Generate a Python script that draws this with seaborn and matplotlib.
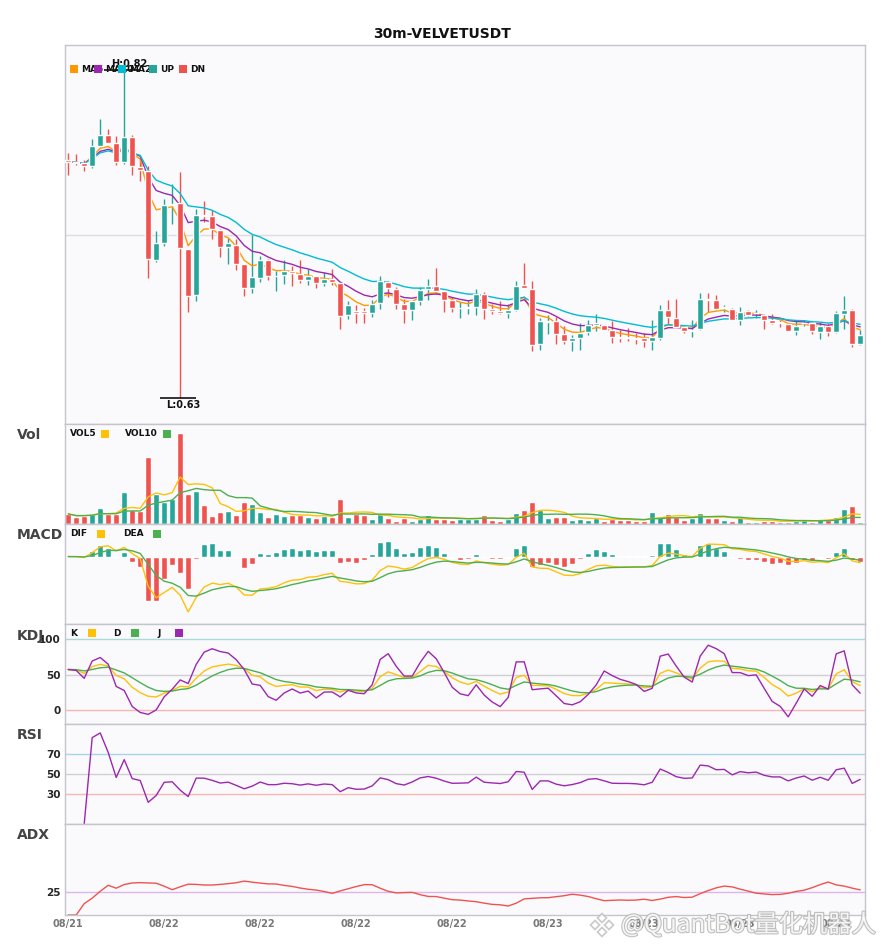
import matplotlib
matplotlib.use('Agg')
import matplotlib.pyplot as plt
from matplotlib.patches import Rectangle, Polygon
import matplotlib.patheffects as pe
import numpy as np
import pandas as pd
import seaborn as sns

# --- data (30m candles, VELVETUSDT) ---
opens = [0.7669, 0.7654, 0.7650, 0.7631, 0.7747, 0.7809, 0.7763, 0.7655, 0.7798, 0.7625,
         0.7606, 0.7092, 0.7190, 0.7406, 0.7418, 0.7153, 0.6889, 0.7349, 0.7345, 0.7267,
         0.7167, 0.7177, 0.7067, 0.6931, 0.6991, 0.7094, 0.6998, 0.7008, 0.7031, 0.7014,
         0.6975, 0.6998, 0.6960, 0.6985, 0.6962, 0.6774, 0.6797, 0.6799, 0.6787, 0.6847,
         0.6964, 0.6928, 0.6841, 0.6807, 0.6856, 0.6925, 0.6945, 0.6912, 0.6860, 0.6814,
         0.6814, 0.6822, 0.6895, 0.6809, 0.6797, 0.6787, 0.6803, 0.6947, 0.6928, 0.6611,
         0.6738, 0.6740, 0.6665, 0.6626, 0.6644, 0.6678, 0.6721, 0.6717, 0.6688, 0.6648,
         0.6648, 0.6642, 0.6646, 0.6625, 0.6646, 0.6807, 0.6761, 0.6707, 0.6686, 0.6694,
         0.6870, 0.6860, 0.6817, 0.6813, 0.6749, 0.6797, 0.6785, 0.6778, 0.6745, 0.6732,
         0.6726, 0.6684, 0.6728, 0.6730, 0.6678, 0.6711, 0.6678, 0.6784, 0.6803, 0.6611]
highs = [0.7707, 0.7701, 0.7665, 0.7786, 0.7901, 0.7844, 0.7803, 0.8200, 0.7809, 0.7684,
         0.7631, 0.7257, 0.7441, 0.7527, 0.7596, 0.7153, 0.7383, 0.7429, 0.7378, 0.7268,
         0.7221, 0.7215, 0.7067, 0.7234, 0.7113, 0.7100, 0.7027, 0.7094, 0.7056, 0.7090,
         0.7043, 0.6998, 0.7023, 0.7043, 0.6962, 0.6855, 0.6832, 0.6814, 0.6860, 0.6998,
         0.6970, 0.6937, 0.6870, 0.6855, 0.6937, 0.6985, 0.7046, 0.6912, 0.6879, 0.6850,
         0.6864, 0.6928, 0.6908, 0.6837, 0.6855, 0.6841, 0.6970, 0.7075, 0.6970, 0.6759,
         0.6774, 0.6764, 0.6711, 0.6659, 0.6730, 0.6749, 0.6784, 0.6717, 0.6740, 0.6688,
         0.6701, 0.6672, 0.6672, 0.6749, 0.6832, 0.6860, 0.6870, 0.6711, 0.6749, 0.6905,
         0.6902, 0.6889, 0.6832, 0.6814, 0.6822, 0.6804, 0.6807, 0.6784, 0.6784, 0.6749,
         0.6726, 0.6745, 0.6749, 0.6730, 0.6736, 0.6730, 0.6797, 0.6883, 0.6813, 0.6688]
lows = [0.7583, 0.7636, 0.7602, 0.7621, 0.7742, 0.7763, 0.7636, 0.7642, 0.7583, 0.7546,
        0.6988, 0.7080, 0.7172, 0.7301, 0.6300, 0.6793, 0.6856, 0.7309, 0.7215, 0.7109,
        0.7071, 0.7033, 0.6885, 0.6902, 0.6966, 0.6975, 0.6914, 0.6956, 0.6941, 0.6960,
        0.6947, 0.6933, 0.6943, 0.6947, 0.6694, 0.6755, 0.6730, 0.6730, 0.6764, 0.6809,
        0.6879, 0.6813, 0.6730, 0.6749, 0.6832, 0.6860, 0.6899, 0.6793, 0.6793, 0.6761,
        0.6780, 0.6774, 0.6751, 0.6780, 0.6780, 0.6761, 0.6797, 0.6931, 0.6569, 0.6573,
        0.6669, 0.6611, 0.6607, 0.6569, 0.6577, 0.6663, 0.6684, 0.6688, 0.6615, 0.6620,
        0.6625, 0.6611, 0.6592, 0.6577, 0.6634, 0.6726, 0.6707, 0.6672, 0.6649, 0.6688,
        0.6793, 0.6803, 0.6793, 0.6749, 0.6717, 0.6768, 0.6761, 0.6698, 0.6726, 0.6707,
        0.6684, 0.6659, 0.6711, 0.6669, 0.6640, 0.6653, 0.6672, 0.6698, 0.6592, 0.6606]
closes = [0.7654, 0.7652, 0.7635, 0.7746, 0.7809, 0.7763, 0.7655, 0.7798, 0.7632, 0.7609,
          0.7098, 0.7188, 0.7406, 0.7416, 0.7161, 0.6885, 0.7349, 0.7346, 0.7268, 0.7167,
          0.7190, 0.7071, 0.6931, 0.6993, 0.7094, 0.7000, 0.7000, 0.7031, 0.7016, 0.6975,
          0.6998, 0.6960, 0.6981, 0.6966, 0.6768, 0.6832, 0.6787, 0.6790, 0.6837, 0.6970,
          0.6931, 0.6841, 0.6807, 0.6855, 0.6922, 0.6945, 0.6914, 0.6860, 0.6816, 0.6818,
          0.6822, 0.6895, 0.6809, 0.6797, 0.6787, 0.6807, 0.6941, 0.6931, 0.6602, 0.6740,
          0.6740, 0.6665, 0.6626, 0.6644, 0.6672, 0.6721, 0.6730, 0.6692, 0.6649, 0.6646,
          0.6646, 0.6640, 0.6625, 0.6649, 0.6807, 0.6764, 0.6707, 0.6684, 0.6688, 0.6870,
          0.6860, 0.6813, 0.6818, 0.6749, 0.6793, 0.6778, 0.6787, 0.6749, 0.6730, 0.6730,
          0.6684, 0.6711, 0.6730, 0.6684, 0.6711, 0.6678, 0.6787, 0.6807, 0.6611, 0.6659]
# volume in thousands
volumes = [30, 20, 25, 30, 49, 30, 30, 94, 43, 38,
           199, 88, 66, 76, 271, 88, 97, 58, 25, 37,
           40, 28, 67, 61, 37, 22, 31, 25, 28, 28,
           22, 19, 25, 22, 76, 22, 31, 28, 16, 34,
           19, 10, 19, 10, 15, 28, 16, 16, 13, 16,
           16, 16, 28, 13, 10, 16, 34, 43, 67, 43,
           19, 22, 22, 13, 16, 13, 18, 10, 16, 13,
           13, 10, 10, 37, 22, 31, 22, 13, 19, 34,
           19, 19, 13, 10, 22, 7, 7, 10, 10, 7,
           7, 10, 13, 7, 16, 13, 22, 46, 55, 7]
date_ticks = [0, 12, 24, 36, 48, 60, 72, 84, 96]
date_labels = ['08/21', '08/22', '08/22', '08/22', '08/22', '08/23', '08/23', '08/23', '08/23']

UP, DN = '#26a69a', '#ef5350'

df = pd.DataFrame({'o': opens, 'h': highs, 'l': lows, 'c': closes, 'v': volumes})
df['i'] = np.arange(len(df))
cols = np.where(df['c'] >= df['o'], UP, DN)

# --- indicators ---
for n in (5, 10, 20):
    df[f'ma{n}'] = df['c'].ewm(span=n).mean()
df['vol5'] = df['v'].rolling(5, min_periods=1).mean()
df['vol10'] = df['v'].rolling(10, min_periods=1).mean()

# fast MACD (6, 13, 5)
df['dif'] = df['c'].ewm(span=6, adjust=False).mean() - df['c'].ewm(span=13, adjust=False).mean()
df['dea'] = df['dif'].ewm(span=5, adjust=False).mean()
df['hist'] = 2 * (df['dif'] - df['dea'])

low9 = df['l'].rolling(9, min_periods=1).min()
high9 = df['h'].rolling(9, min_periods=1).max()
rsv = (df['c'] - low9) / (high9 - low9) * 100
df['k'] = rsv.ewm(com=2, adjust=False).mean()
df['d'] = df['k'].ewm(com=2, adjust=False).mean()
df['j'] = 3 * df['k'] - 2 * df['d']

delta = df['c'].diff()
gain = delta.clip(lower=0).ewm(alpha=1 / 14, min_periods=2).mean()
loss = (-delta.clip(upper=0)).ewm(alpha=1 / 14, min_periods=2).mean()
df['rsi'] = 100 * gain / (gain + loss)

prev_c = df['c'].shift()
tr = pd.concat([df['h'] - df['l'], (df['h'] - prev_c).abs(), (df['l'] - prev_c).abs()], axis=1).max(axis=1)
upm = df['h'].diff()
dnm = -df['l'].diff()
pdm = pd.Series(np.where((upm > dnm) & (upm > 0), upm, 0.0))
mdm = pd.Series(np.where((dnm > upm) & (dnm > 0), dnm, 0.0))
atr = tr.ewm(alpha=1 / 8, adjust=False).mean()
pdi = 100 * pdm.ewm(alpha=1 / 8, adjust=False).mean() / atr
mdi = 100 * mdm.ewm(alpha=1 / 8, adjust=False).mean() / atr
dx = (100 * (pdi - mdi).abs() / (pdi + mdi)).fillna(0)
df['adx'] = dx.ewm(alpha=1 / 8, adjust=False).mean()

# --- figure ---
sns.set_style('white')
plt.rcParams['font.family'] = ['DejaVu Sans', 'Noto Sans CJK SC']
W, H = 885, 950
fig = plt.figure(figsize=(W / 100, H / 100), dpi=100)
fig.patch.set_facecolor('white')


def panel(top, bottom):
    ax = fig.add_axes([65 / W, 1 - bottom / H, 800 / W, (bottom - top) / H])
    ax.set_facecolor('#fafafc')
    for s in ax.spines.values():
        s.set_color('#c4c4cc')
        s.set_linewidth(1)
    ax.set_xlim(-0.4, 99.6)
    ax.set_xticks([])
    ax.set_yticks([])
    ax.tick_params(length=0, pad=3)
    return ax


def line(ax, col, color, lw=1.0):
    sns.lineplot(x=df['i'], y=df[col], ax=ax, color=color, linewidth=lw)
    ax.set_xlabel('')
    ax.set_ylabel('')


def label_square(x, y, text, color, square_first=False, gap=0):
    # x, y in figure pixels from the top-left corner
    tx = x + 11 if square_first else x
    sx = x if square_first else x + gap
    fig.text(tx / W, 1 - y / H, text, fontsize=6.5, fontweight='bold',
             va='center', ha='left', color='#111111', zorder=5)
    fig.add_artist(Rectangle((sx / W, 1 - (y + 3.5) / H), 7.5 / W, 7.5 / H,
                             transform=fig.transFigure, facecolor=color,
                             edgecolor='none', zorder=6))


def side_label(y, text):
    fig.text(17 / W, 1 - y / H, text, fontsize=10, fontweight='bold',
             color='#444444', va='center', ha='left')


fig.text(0.5, 1 - 34 / H, '30m-VELVETUSDT', ha='center', va='center',
         fontsize=10, fontweight='bold', color='#111111')

# price panel
ax = panel(45, 424)
lo, hi = df['l'].min(), df['h'].max()
rng = hi - lo
ylo, yhi = lo - 0.079 * rng, hi + 0.067 * rng
ax.set_ylim(ylo, yhi)
ax.axhline((ylo + yhi) / 2, color='#dcdce0', lw=1, zorder=0)
ax.vlines(df['i'], df['l'], df['h'], colors=cols, linewidth=1, zorder=2)
body_lo = np.minimum(df['o'], df['c'])
body_h = np.maximum((df['c'] - df['o']).abs(), 0.0004)
ax.bar(df['i'], body_h, bottom=body_lo, width=0.75, color=cols, zorder=3)
line(ax, 'ma5', '#ff9800')
line(ax, 'ma10', '#9c27b0')
line(ax, 'ma20', '#00bcd4')
ih = int(df['h'].idxmax())
il = int(df['l'].idxmin())
ax.hlines(hi - 0.0017, ih - 2.5, ih + 2, color='#111111', lw=1.2, zorder=4)
ax.text(ih + 0.6, hi - 0.0012, f'H:{hi:.2f}', ha='center', va='bottom',
        fontsize=7, fontweight='bold', color='#111111', zorder=4)
ax.hlines(lo, il - 2.5, il + 2, color='#111111', lw=1.2, zorder=4)
ax.text(il + 0.4, lo - 0.0015, f'L:{lo:.2f}', ha='center', va='top',
        fontsize=7, fontweight='bold', color='#111111', zorder=4)
for x, t, c in [(70, 'MA5', '#ff9800'), (94, 'MA10', '#9c27b0'), (118, 'MA20', '#00bcd4'),
                (149, 'UP', UP), (179, 'DN', DN)]:
    label_square(x, 69, t, c, square_first=True)

# volume panel
ax = panel(424, 524)
ax.bar(df['i'], df['v'], width=0.75, color=cols, zorder=2)
line(ax, 'vol5', '#ffc107')
line(ax, 'vol10', '#4caf50')
ax.set_ylim(0, df['v'].max() * 1.1)
side_label(435, 'Vol')
label_square(70, 434, 'VOL5', '#ffc107', gap=31)
label_square(125, 434, 'VOL10', '#4caf50', gap=38)

# MACD panel
ax = panel(524, 624)
ax.bar(df['i'], df['hist'], width=0.75, color=np.where(df['hist'] >= 0, UP, DN), zorder=2)
line(ax, 'dif', '#ffc107')
line(ax, 'dea', '#4caf50')
mlo = min(df['dif'].min(), df['dea'].min(), df['hist'].min())
mhi = max(df['dif'].max(), df['dea'].max(), df['hist'].max())
mr = mhi - mlo
ax.set_ylim(mlo - 0.17 * mr, mhi + 0.24 * mr)
side_label(535, 'MACD')
label_square(70, 534, 'DIF', '#ffc107', gap=27)
label_square(123, 534, 'DEA', '#4caf50', gap=30)

# KDJ panel
ax = panel(624, 724)
ax.axhline(100, color='#a8dada', lw=1, zorder=0)
ax.axhline(50, color='#d0d0d4', lw=1, zorder=0)
ax.axhline(0, color='#ffb4b4', lw=1, zorder=0)
line(ax, 'k', '#ffc107')
line(ax, 'd', '#4caf50')
line(ax, 'j', '#9c27b0')
ax.set_ylim(-19.8, 121.6)
ax.set_yticks([0, 50, 100])
ax.set_yticklabels(['0', '50', '100'], fontsize=7.5, fontweight='bold')
side_label(636, 'KDJ')
label_square(70, 633, 'K', '#ffc107', gap=18)
label_square(113, 633, 'D', '#4caf50', gap=18)
label_square(157, 633, 'J', '#9c27b0', gap=18)

# RSI panel
ax = panel(724, 824)
ax.axhline(70, color='#a8d4e8', lw=1, zorder=0)
ax.axhline(50, color='#d0d0d4', lw=1, zorder=0)
ax.axhline(30, color='#ffb4b4', lw=1, zorder=0)
line(ax, 'rsi', '#9c27b0')
ax.set_ylim(0, 100)
ax.set_yticks([30, 50, 70])
ax.set_yticklabels(['30', '50', '70'], fontsize=7.5, fontweight='bold')
side_label(735, 'RSI')

# ADX panel
ax = panel(824, 915)
ax.axhline(25, color='#deb4ea', lw=1, zorder=0)
line(ax, 'adx', '#ef5350')
ax.set_ylim(0, 100)
ax.set_yticks([25])
ax.set_yticklabels(['25'], fontsize=7.5, fontweight='bold')
ax.set_xticks(date_ticks)
ax.set_xticklabels(date_labels, fontsize=7, fontweight='bold', color='#777777')
side_label(835, 'ADX')

# watermark: outlined text with a small diamond logo
halo = [pe.withStroke(linewidth=1.6, foreground='#b4b4b4')]
fig.text(621 / W, 1 - 925 / H, '@QuantBot量化机器人', fontsize=17.5, color='white',
         va='center', ha='left', family=['Noto Sans CJK SC', 'DejaVu Sans'],
         path_effects=halo, alpha=0.85, zorder=10)
for cx, cy, r in [(602, 918, 4.5), (595, 925, 4.5), (609, 925, 4.5), (602, 932, 4.5)]:
    pts = [(cx / W, 1 - (cy - r) / H), ((cx + r) / W, 1 - cy / H),
           (cx / W, 1 - (cy + r) / H), ((cx - r) / W, 1 - cy / H)]
    fig.add_artist(Polygon(pts, closed=True, transform=fig.transFigure, alpha=0.85,
                           facecolor='white', edgecolor='#c0c0c0', lw=1.2, zorder=10))

fig.savefig('out.png', dpi=100, facecolor='white')
